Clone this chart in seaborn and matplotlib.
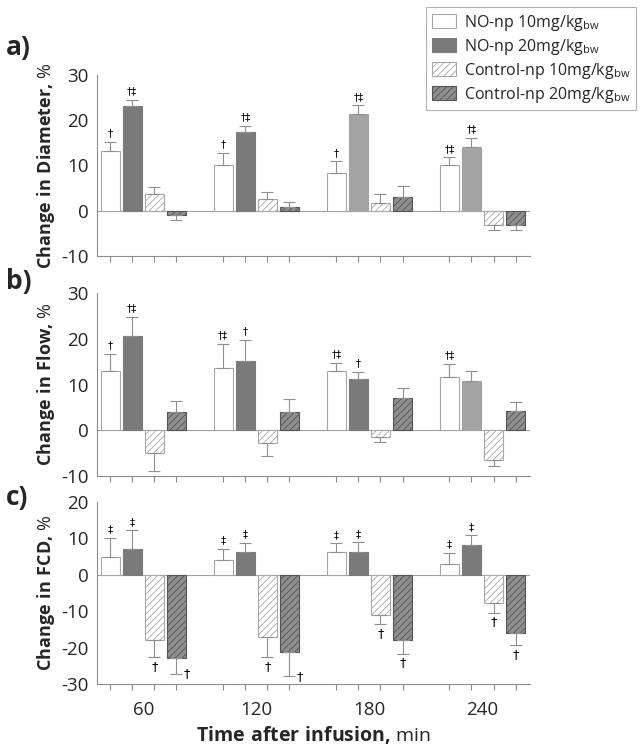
import numpy as np
import pandas as pd
import matplotlib
matplotlib.use('Agg')
import matplotlib.pyplot as plt
import seaborn as sns
from matplotlib.patches import Patch

sns.set_style('white')
plt.rcParams['font.family'] = ['Open Sans', 'DejaVu Sans']
plt.rcParams['mathtext.fontset'] = 'custom'
plt.rcParams['mathtext.rm'] = 'Open Sans'
plt.rcParams['mathtext.bf'] = 'Open Sans:bold'
plt.rcParams['hatch.linewidth'] = 0.6

# data
times = ['60', '120', '180', '240']
groups = ['NO-np 10', 'NO-np 20', 'Control-np 10', 'Control-np 20']

diam_no10 = [13.1, 10.0, 8.4, 10.0]
diam_no20 = [23.2, 17.5, 21.3, 14.1]
diam_c10 = [3.6, 2.7, 1.8, -3.2]
diam_c20 = [-1.0, 0.9, 3.0, -3.2]
diam_err = [[2.2, 2.7, 2.5, 1.8], [1.3, 1.2, 2.0, 2.0], [1.7, 1.5, 1.8, 1.0], [1.0, 1.1, 2.4, 1.0]]
diam_marks = [['†', '†', '†', '†‡'], ['†‡', '†‡', '†‡', '†‡'], ['', '', '', ''], ['', '', '', '']]

flow_no10 = [13.0, 13.6, 13.0, 11.6]
flow_no20 = [20.7, 15.2, 11.1, 10.8]
flow_c10 = [-5.0, -2.7, -1.4, -6.6]
flow_c20 = [4.0, 4.0, 7.1, 4.2]
flow_err = [[3.6, 5.3, 1.7, 2.9], [4.0, 4.6, 1.6, 2.2], [3.8, 3.0, 1.2, 1.3], [2.4, 2.8, 2.1, 1.9]]
flow_marks = [['†', '†‡', '†‡', '†‡'], ['†‡', '†', '†', ''], ['', '', '', ''], ['', '', '', '']]

fcd_no10 = [5.0, 4.1, 6.3, 3.0]
fcd_no20 = [7.0, 6.2, 6.3, 8.2]
fcd_c10 = [-17.9, -17.1, -11.1, -7.8]
fcd_c20 = [-23.0, -21.1, -18.0, -16.0]
fcd_err = [[5.2, 2.9, 2.3, 2.9], [5.2, 2.6, 2.6, 2.6], [4.7, 5.5, 2.4, 2.6], [4.2, 6.8, 3.7, 3.4]]
fcd_marks = [['‡'] * 4, ['‡'] * 4, ['†'] * 4, ['†'] * 4]

panels = [
    dict(letter='a)', ylabel='Diameter', vals=[diam_no10, diam_no20, diam_c10, diam_c20],
         err=diam_err, marks=diam_marks, ylim=(-10, 30), yticks=[-10, 0, 10, 20, 30],
         light=[(1, 2), (1, 3)], side=[]),
    dict(letter='b)', ylabel='Flow', vals=[flow_no10, flow_no20, flow_c10, flow_c20],
         err=flow_err, marks=flow_marks, ylim=(-10, 30), yticks=[-10, 0, 10, 20, 30],
         light=[(1, 3)], side=[]),
    dict(letter='c)', ylabel='FCD', vals=[fcd_no10, fcd_no20, fcd_c10, fcd_c20],
         err=fcd_err, marks=fcd_marks, ylim=(-30, 20), yticks=[-30, -20, -10, 0, 10, 20],
         light=[], side=[(3, 0), (3, 1)]),
]

# styles per series: face, edge, hatch
STYLE = [
    dict(fc='white', ec='#a6a6a6', hatch=None),
    dict(fc='#7a7a7a', ec='#7a7a7a', hatch=None),
    dict(fc='white', ec='#a8a8a8', hatch='/////'),
    dict(fc='#8e8e8e', ec='#555555', hatch='/////'),
]
LIGHT_GRAY = '#a3a3a3'
AXIS_GRAY = '#8c8c8c'

fig = plt.figure(figsize=(6.44, 7.48), dpi=100)
boxes = [(0.6578, 0.8997), (0.3636, 0.6083), (0.0856, 0.3289)]
left, right = 97 / 644, 530 / 644

for pi, (panel, (b, t)) in enumerate(zip(panels, boxes)):
    ax = fig.add_axes([left, b, right - left, t - b])
    rows = []
    for g, series in zip(groups, panel['vals']):
        for tm, v in zip(times, series):
            rows.append({'time': tm, 'group': g, 'value': v})
    df = pd.DataFrame(rows)
    sns.barplot(data=df, x='time', y='value', hue='group', order=times, hue_order=groups,
                errorbar=None, width=0.78, gap=0.12, legend=False, ax=ax, zorder=2)

    bars = sorted(ax.patches, key=lambda p: p.get_x())
    centers = []
    for k, p in enumerate(bars):
        ti, si = divmod(k, 4)
        st = STYLE[si]
        fc = LIGHT_GRAY if (si, ti) in panel['light'] else st['fc']
        ec = LIGHT_GRAY if (si, ti) in panel['light'] else st['ec']
        p.set_facecolor(fc)
        p.set_edgecolor(ec)
        p.set_linewidth(0.8)
        if st['hatch']:
            p.set_hatch(st['hatch'])
        xc = p.get_x() + p.get_width() / 2
        centers.append(xc)
        v = panel['vals'][si][ti]
        e = panel['err'][si][ti]
        sign = 1 if v >= 0 else -1
        end = v + sign * e
        ax.errorbar([xc], [v], yerr=[[e if sign < 0 else 0], [e if sign > 0 else 0]],
                    fmt='none', ecolor='#8f8f8f', elinewidth=0.8, capsize=4.5,
                    capthick=0.8, zorder=3)
        mark = panel['marks'][si][ti]
        if mark:
            span = panel['ylim'][1] - panel['ylim'][0]
            if (si, ti) in panel['side']:
                ax.text(xc + 0.09, end, mark, ha='center', va='center', fontsize=9,
                        family=['DejaVu Sans'], color='black')
            elif sign > 0:
                ax.text(xc, end + span * 0.02, mark, ha='center', va='bottom', fontsize=7.5,
                        family=['DejaVu Sans'], color='black')
            else:
                ax.text(xc, end - span * 0.015, mark, ha='center', va='top', fontsize=9,
                        family=['DejaVu Sans'], color='black')

    ax.axhline(0, color='#a0a0a0', lw=0.8, zorder=1)
    ax.set_xlim(-0.41, 3.42)
    ax.set_ylim(*panel['ylim'])
    ax.set_yticks(panel['yticks'])
    ax.set_yticklabels([str(v) for v in panel['yticks']], fontsize=13.5)
    ax.set_xticks(range(len(times)))
    ax.set_xticks(centers, minor=True)
    ax.tick_params(axis='x', which='major', length=0, pad=12)
    ax.tick_params(axis='x', which='minor', length=4, color=AXIS_GRAY, direction='out', width=0.8)
    ax.tick_params(axis='y', length=4, color=AXIS_GRAY, direction='out', width=0.8, pad=2)
    ax.tick_params(axis='x', bottom=True, which='both')
    if pi == 2:
        ax.set_xticklabels(times, fontsize=13.5)
        ax.set_xlabel(r'$\bf{Time\ after\ infusion{,}}$ min', fontsize=14, labelpad=4)
    else:
        ax.set_xticklabels([])
        ax.set_xlabel('')
    ax.set_ylabel(r'$\bf{Change\ in\ %s{,}}$ %%' % panel['ylabel'],
                  fontsize=13, labelpad=3)
    sns.despine(ax=ax)
    for s in ['left', 'bottom']:
        ax.spines[s].set_color(AXIS_GRAY)
        ax.spines[s].set_linewidth(0.8)

    fig.text(6 / 644, 1 - ({0: 47, 1: 282, 2: 497}[pi]) / 748, panel['letter'],
             fontsize=19, fontweight='bold', va='center', ha='left')

handles = [Patch(facecolor=s['fc'], edgecolor=s['ec'], hatch=s['hatch'], linewidth=0.8)
           for s in STYLE]
labels = [g + r'mg/kg$_{\mathrm{bw}}$' for g in groups]
leg = fig.legend(handles, labels, loc='upper right', bbox_to_anchor=(636 / 644, 1 - 7 / 748),
                 fontsize=11.5, frameon=True, fancybox=False, handlelength=1.5,
                 handleheight=1.0, labelspacing=0.25, borderpad=0.35, handletextpad=0.5,
                 borderaxespad=0)
leg.get_frame().set_edgecolor('#a0a0a0')
leg.get_frame().set_linewidth(0.8)

fig.savefig('out.png', dpi=100)
